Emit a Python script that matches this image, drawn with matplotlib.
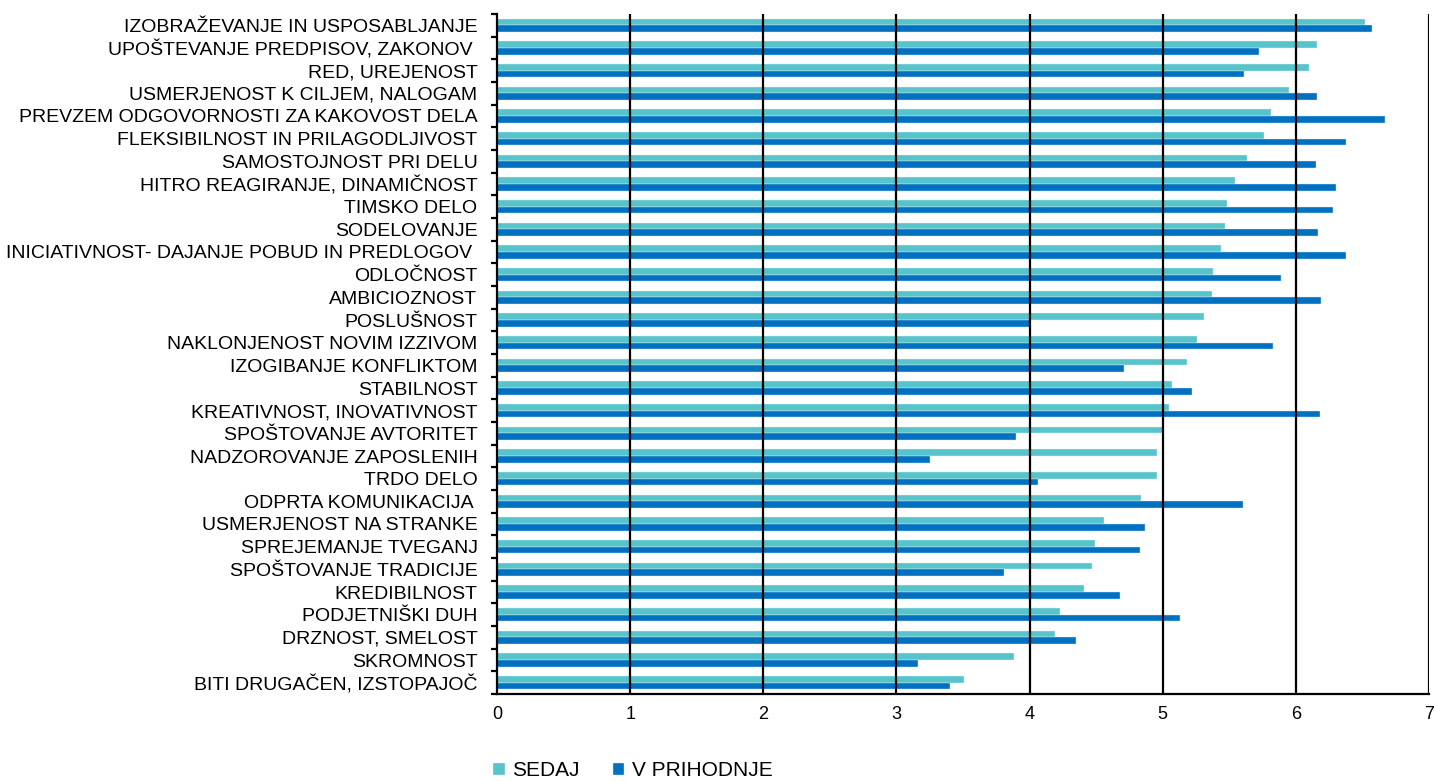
import matplotlib.pyplot as plt
import numpy as np

plt.rcParams['font.family'] = ['Liberation Sans', 'DejaVu Sans']

# categories, top to bottom as in the chart
categories = [
    "IZOBRAŽEVANJE IN USPOSABLJANJE",
    "UPOŠTEVANJE PREDPISOV, ZAKONOV ",
    "RED, UREJENOST",
    "USMERJENOST K CILJEM, NALOGAM",
    "PREVZEM ODGOVORNOSTI ZA KAKOVOST DELA",
    "FLEKSIBILNOST IN PRILAGODLJIVOST",
    "SAMOSTOJNOST PRI DELU",
    "HITRO REAGIRANJE, DINAMIČNOST",
    "TIMSKO DELO",
    "SODELOVANJE",
    "INICIATIVNOST- DAJANJE POBUD IN PREDLOGOV ",
    "ODLOČNOST",
    "AMBICIOZNOST",
    "POSLUŠNOST",
    "NAKLONJENOST NOVIM IZZIVOM",
    "IZOGIBANJE KONFLIKTOM",
    "STABILNOST",
    "KREATIVNOST, INOVATIVNOST",
    "SPOŠTOVANJE AVTORITET",
    "NADZOROVANJE ZAPOSLENIH",
    "TRDO DELO",
    "ODPRTA KOMUNIKACIJA ",
    "USMERJENOST NA STRANKE",
    "SPREJEMANJE TVEGANJ",
    "SPOŠTOVANJE TRADICIJE",
    "KREDIBILNOST",
    "PODJETNIŠKI DUH",
    "DRZNOST, SMELOST",
    "SKROMNOST",
    "BITI DRUGAČEN, IZSTOPAJOČ",
]

sedaj = [6.52, 6.16, 6.10, 5.95, 5.81, 5.76, 5.63, 5.54, 5.48, 5.47,
         5.44, 5.38, 5.37, 5.31, 5.26, 5.18, 5.07, 5.05, 5.01, 4.96,
         4.96, 4.84, 4.56, 4.49, 4.47, 4.41, 4.23, 4.19, 3.88, 3.51]

v_prihodnje = [6.57, 5.72, 5.61, 6.16, 6.67, 6.38, 6.15, 6.30, 6.28, 6.17,
               6.38, 5.89, 6.19, 4.00, 5.83, 4.71, 5.22, 6.18, 3.90, 3.25,
               4.06, 5.60, 4.87, 4.83, 3.81, 4.68, 5.13, 4.35, 3.16, 3.40]

xticks = [0, 1, 2, 3, 4, 5, 6, 7]

col_sedaj = '#56C4CA'
col_vp = '#0070C0'

fig = plt.figure(figsize=(14.35, 7.82), dpi=100)
ax = fig.add_axes([497 / 1435, 1 - 694 / 782, 932 / 1435, 680 / 782])

y = np.arange(len(categories))
h = 0.29
b1 = ax.barh(y - h / 2, sedaj, height=h, color=col_sedaj, edgecolor='#E2F4F5',
             linewidth=0.3, label='SEDAJ', zorder=2)
b2 = ax.barh(y + h / 2, v_prihodnje, height=h, color=col_vp, edgecolor='#D6E8F5',
             linewidth=0.3, label='V PRIHODNJE', zorder=2)

ax.set_ylim(len(categories) - 0.5, -0.5)
ax.set_xlim(0, 7)

# vertical gridlines drawn over the bars
for xv in xticks[1:]:
    ax.axvline(xv, color='black', linewidth=1.6, zorder=3)

ax.set_xticks(xticks)
ax.tick_params(axis='x', length=0, pad=8.5, labelsize=13)

# category labels centred, tick marks between categories
ax.set_yticks(y)
ax.set_yticklabels(categories, fontsize=14)
ax.tick_params(axis='y', which='major', length=0, pad=14)
ax.set_yticks(np.arange(len(categories) + 1) - 0.5, minor=True)
ax.tick_params(axis='y', which='minor', length=4.5, width=1.6, direction='out')

for side in ['top', 'right']:
    ax.spines[side].set_visible(False)
ax.spines['left'].set_linewidth(1.6)
ax.spines['bottom'].set_linewidth(1.6)
ax.spines['left'].set_zorder(4)
ax.spines['bottom'].set_zorder(4)

fig.legend(handles=[b1, b2], loc='center left', bbox_to_anchor=(483 / 1435, 1 - 771 / 782),
           ncol=2, frameon=False, fontsize=15, handlelength=0.55, handleheight=0.55,
           handletextpad=0.35, columnspacing=1.6, borderpad=0)

fig.savefig('out.png', dpi=100)
